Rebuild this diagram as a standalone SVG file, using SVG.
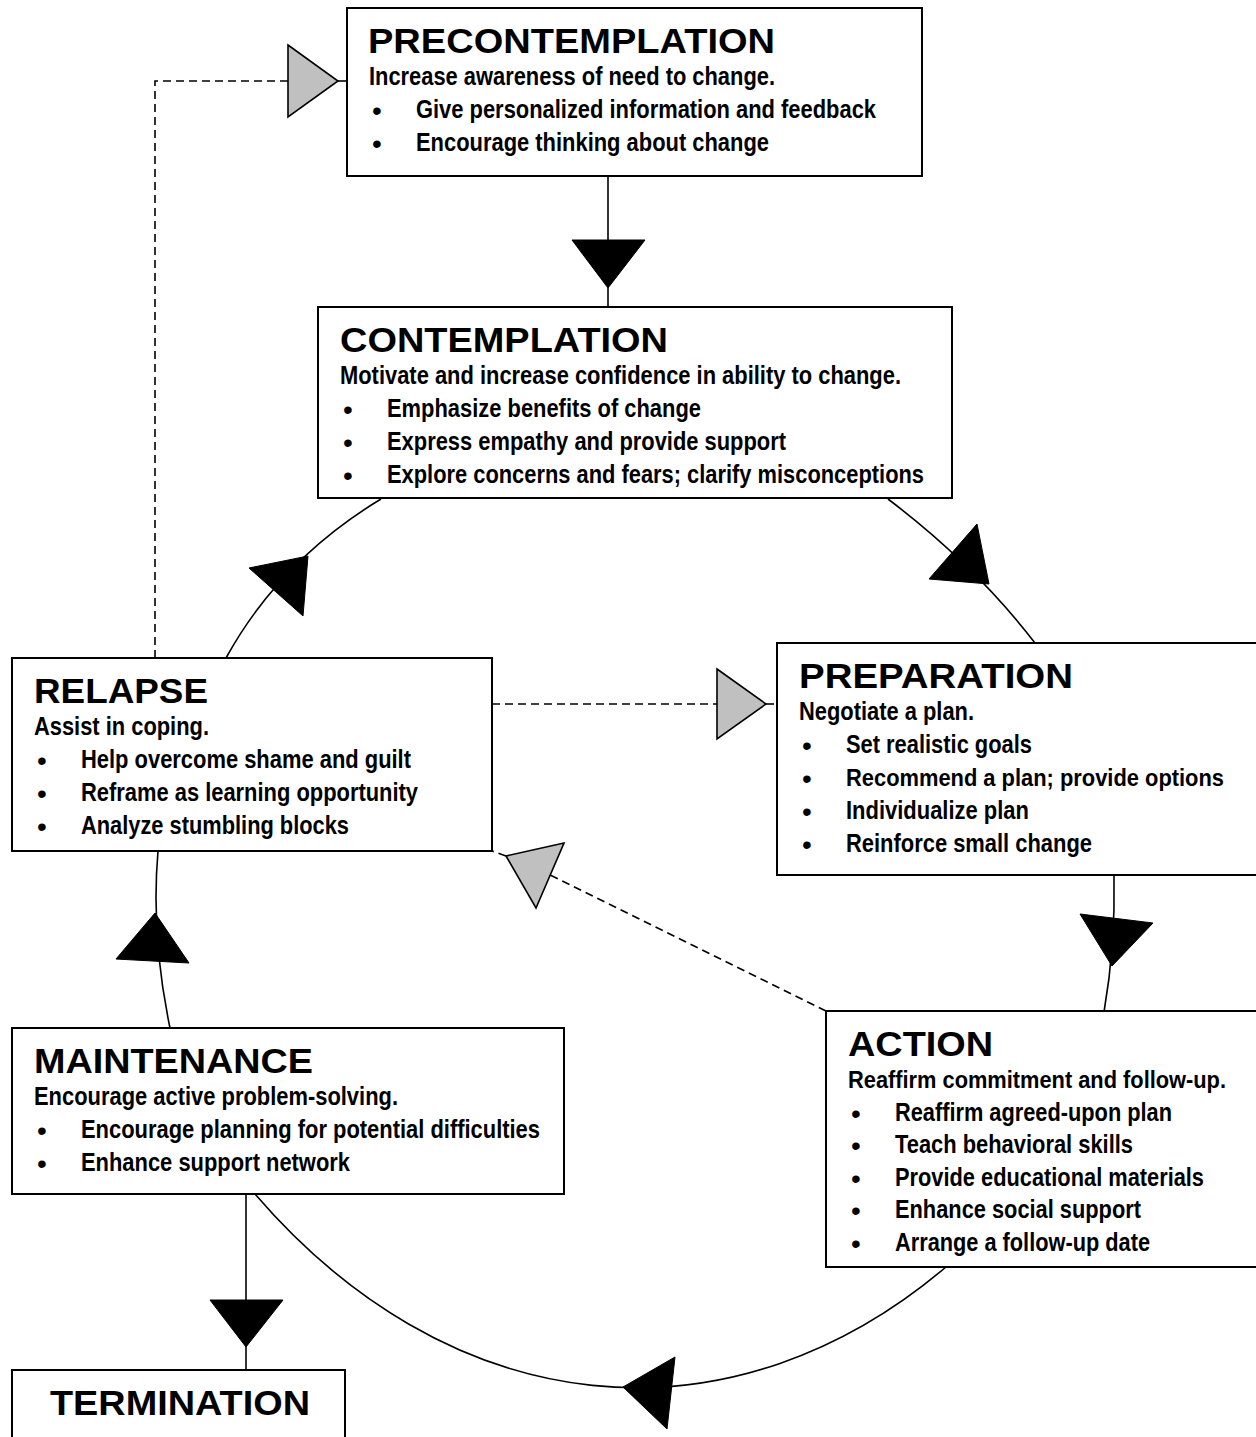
<svg xmlns="http://www.w3.org/2000/svg" width="1256" height="1437" viewBox="0 0 1256 1437">
<style>
.box{fill:#fff;stroke:#000;stroke-width:2}
.t{font-family:"Liberation Sans",Arial,sans-serif;font-weight:bold;font-size:35px;fill:#000}
.b{font-family:"Liberation Sans Narrow","Liberation Sans",Arial,sans-serif;font-weight:bold;font-size:25px;fill:#000}
.bs{font-size:23.4px}
.bl{font-family:"Liberation Sans",Arial,sans-serif;font-size:28px;fill:#000}
.ln{fill:none;stroke:#000;stroke-width:1.6}
.ds{fill:none;stroke:#000;stroke-width:1.6;stroke-dasharray:8 5}
.ah{fill:#000;stroke:#000;stroke-width:1}
.ag{fill:#c0c0c0;stroke:#000;stroke-width:1.6;stroke-linejoin:miter}
</style>
<rect width="1256" height="1437" fill="#fff"/>
<g id="connectors">
  <!-- precontemplation -> contemplation -->
  <path class="ln" d="M608 176 V307"/>
  <polygon class="ah" points="572,240 645,240 608,288"/>
  <!-- contemplation -> preparation -->
  <path class="ln" d="M888 499 Q975 565 1035 643"/>
  <polygon class="ah" points="977,524 929,579 989,584"/>
  <!-- preparation -> action -->
  <path class="ln" d="M1114 876 C1115 920 1113 960 1104 1012"/>
  <polygon class="ah" points="1080,914 1153,923 1112,966"/>
  <!-- action -> maintenance -->
  <path class="ln" d="M946 1267 A600 846 0 0 1 255 1194"/>
  <polygon class="ah" points="675,1357 623,1387 667,1429"/>
  <!-- maintenance -> relapse -->
  <path class="ln" d="M170 1028 C160 980 152 920 158 851"/>
  <polygon class="ah" points="116,959 189,963 155,913"/>
  <!-- relapse -> contemplation -->
  <path class="ln" d="M226 658 Q280 560 381 499"/>
  <polygon class="ah" points="249,568 303,616 308,556"/>
  <!-- maintenance -> termination -->
  <path class="ln" d="M246 1194 V1370"/>
  <polygon class="ah" points="210,1300 283,1300 246,1347"/>
  <!-- relapse -> precontemplation (dashed) -->
  <path class="ds" d="M155 658 V81 H288"/>
  <path class="ds" d="M338 81 H347"/>
  <polygon class="ag" points="288,45 338,81 288,117"/>
  <!-- relapse -> preparation (dashed) -->
  <path class="ds" d="M492 704 H717"/>
  <path class="ds" d="M766 704 H777"/>
  <polygon class="ag" points="717,669 766,704 717,739"/>
  <!-- action -> relapse (dashed) -->
  <path class="ds" d="M826 1011 L550 875"/>
  <path class="ds" d="M506 856 L492 851"/>
  <polygon class="ag" points="564,843 506,856 536,908"/>
</g>
<g id="precontemplation">
  <rect class="box" x="347" y="8" width="575" height="168"/>
  <text class="t" x="368" y="53" textLength="407" lengthAdjust="spacingAndGlyphs">PRECONTEMPLATION</text>
  <text class="b" x="369" y="85" textLength="406" lengthAdjust="spacingAndGlyphs">Increase awareness of need to change.</text>
  <text class="bl" x="372" y="120">•</text>
  <text class="b" x="416" y="118" textLength="460" lengthAdjust="spacingAndGlyphs">Give personalized information and feedback</text>
  <text class="bl" x="372" y="153">•</text>
  <text class="b" x="416" y="151" textLength="353" lengthAdjust="spacingAndGlyphs">Encourage thinking about change</text>
</g>
<g id="contemplation">
  <rect class="box" x="318" y="307" width="634" height="191"/>
  <text class="t" x="340" y="352" textLength="328" lengthAdjust="spacingAndGlyphs">CONTEMPLATION</text>
  <text class="b" x="340" y="384" textLength="561" lengthAdjust="spacingAndGlyphs">Motivate and increase confidence in ability to change.</text>
  <text class="bl" x="343" y="419">•</text>
  <text class="b" x="387" y="417" textLength="314" lengthAdjust="spacingAndGlyphs">Emphasize benefits of change</text>
  <text class="bl" x="343" y="452">•</text>
  <text class="b" x="387" y="450" textLength="399" lengthAdjust="spacingAndGlyphs">Express empathy and provide support</text>
  <text class="bl" x="343" y="485">•</text>
  <text class="b" x="387" y="483" textLength="537" lengthAdjust="spacingAndGlyphs">Explore concerns and fears; clarify misconceptions</text>
</g>
<g id="relapse">
  <rect class="box" x="12" y="658" width="480" height="193"/>
  <text class="t" x="34" y="703" textLength="174" lengthAdjust="spacingAndGlyphs">RELAPSE</text>
  <text class="b" x="34" y="735" textLength="175" lengthAdjust="spacingAndGlyphs">Assist in coping.</text>
  <text class="bl" x="37" y="770">•</text>
  <text class="b" x="81" y="768" textLength="330" lengthAdjust="spacingAndGlyphs">Help overcome shame and guilt</text>
  <text class="bl" x="37" y="803">•</text>
  <text class="b" x="81" y="801" textLength="337" lengthAdjust="spacingAndGlyphs">Reframe as learning opportunity</text>
  <text class="bl" x="37" y="836">•</text>
  <text class="b" x="81" y="834" textLength="268" lengthAdjust="spacingAndGlyphs">Analyze stumbling blocks</text>
</g>
<g id="preparation">
  <rect class="box" x="777" y="643" width="480" height="232"/>
  <text class="t" x="799" y="688" textLength="274" lengthAdjust="spacingAndGlyphs">PREPARATION</text>
  <text class="b" x="799" y="720" textLength="175" lengthAdjust="spacingAndGlyphs">Negotiate a plan.</text>
  <text class="bl" x="802" y="755">•</text>
  <text class="b" x="846" y="753" textLength="186" lengthAdjust="spacingAndGlyphs">Set realistic goals</text>
  <text class="bl" x="802" y="788">•</text>
  <text class="b bs" x="846" y="786" textLength="378" lengthAdjust="spacingAndGlyphs">Recommend a plan; provide options</text>
  <text class="bl" x="802" y="821">•</text>
  <text class="b" x="846" y="819" textLength="183" lengthAdjust="spacingAndGlyphs">Individualize plan</text>
  <text class="bl" x="802" y="854">•</text>
  <text class="b" x="846" y="852" textLength="246" lengthAdjust="spacingAndGlyphs">Reinforce small change</text>
</g>
<g id="action">
  <rect class="box" x="826" y="1011" width="431" height="256"/>
  <text class="t" x="848" y="1056" textLength="145" lengthAdjust="spacingAndGlyphs">ACTION</text>
  <text class="b bs" x="848" y="1088" textLength="378" lengthAdjust="spacingAndGlyphs">Reaffirm commitment and follow-up.</text>
  <text class="bl" x="851" y="1122.6">•</text>
  <text class="b" x="895" y="1120.6" textLength="277" lengthAdjust="spacingAndGlyphs">Reaffirm agreed-upon plan</text>
  <text class="bl" x="851" y="1155.2">•</text>
  <text class="b" x="895" y="1153.2" textLength="238" lengthAdjust="spacingAndGlyphs">Teach behavioral skills</text>
  <text class="bl" x="851" y="1187.8">•</text>
  <text class="b" x="895" y="1185.8" textLength="309" lengthAdjust="spacingAndGlyphs">Provide educational materials</text>
  <text class="bl" x="851" y="1220.4">•</text>
  <text class="b" x="895" y="1218.4" textLength="246" lengthAdjust="spacingAndGlyphs">Enhance social support</text>
  <text class="bl" x="851" y="1253">•</text>
  <text class="b" x="895" y="1251" textLength="255" lengthAdjust="spacingAndGlyphs">Arrange a follow-up date</text>
</g>
<g id="maintenance">
  <rect class="box" x="12" y="1028" width="552" height="166"/>
  <text class="t" x="34" y="1073" textLength="279" lengthAdjust="spacingAndGlyphs">MAINTENANCE</text>
  <text class="b" x="34" y="1105" textLength="364" lengthAdjust="spacingAndGlyphs">Encourage active problem-solving.</text>
  <text class="bl" x="37" y="1140">•</text>
  <text class="b" x="81" y="1138" textLength="459" lengthAdjust="spacingAndGlyphs">Encourage planning for potential difficulties</text>
  <text class="bl" x="37" y="1173">•</text>
  <text class="b" x="81" y="1171" textLength="269" lengthAdjust="spacingAndGlyphs">Enhance support network</text>
</g>
<g id="termination">
  <rect class="box" x="12" y="1370" width="333" height="100"/>
  <text class="t" x="50" y="1415" textLength="260" lengthAdjust="spacingAndGlyphs">TERMINATION</text>
</g>
</svg>
